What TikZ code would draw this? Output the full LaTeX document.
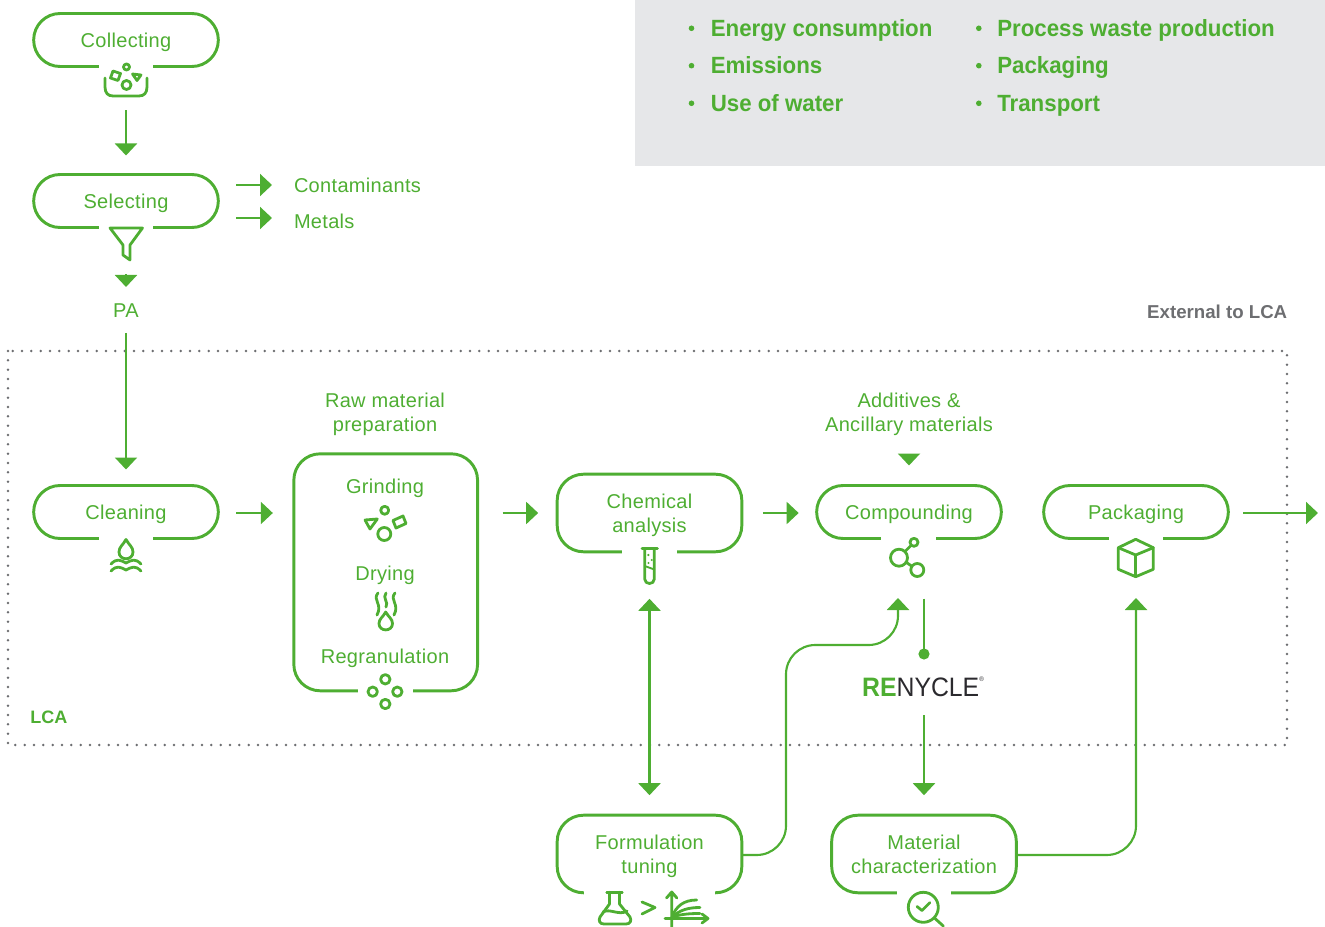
\documentclass[tikz,border=0pt]{standalone}
\usepackage{fontspec}
\setmainfont{Liberation Sans}
\newfontfamily\labelfont[LetterSpace=1.6]{Liberation Sans}
\newfontfamily\itemfont[FakeStretch=0.95]{Liberation Sans}
\newfontfamily\logofont[FakeStretch=0.93]{Liberation Sans}
\usepackage{xcolor}
\usetikzlibrary{arrows.meta}
\definecolor{lcagreen}{HTML}{4EAE32}
\definecolor{lcagrey}{HTML}{E6E7E9}
\definecolor{lcadark}{HTML}{2B2A2E}
\definecolor{lcadots}{HTML}{6D6E71}
\newcommand{\lift}{\rule[-3.4pt]{0pt}{17.4pt}}
\tikzset{
	label/.style={text=lcagreen,font=\labelfont\fontsize{15}{18}\selectfont,align=center,inner sep=0pt,outer sep=0pt,execute at end node=\lift},
	stepbox/.style={label,draw=lcagreen,line width=2.2pt,rounded corners=19.8pt,minimum width=138.5pt},
	pill/.style={stepbox,minimum height=39.75pt},
	tall/.style={stepbox,minimum height=58.2pt},
	gap/.style={fill=white},
	item/.style={text=lcagreen,font=\itemfont\fontsize{17.6}{20}\bfseries\selectfont,anchor=base west,inner sep=0pt},
	icon/.style={draw=lcagreen,line width=2.1pt,line join=round,line cap=round},
	flow/.style={draw=lcagreen,line width=1.6pt,-{Triangle[width=16.5pt,length=9pt]}},
}
\begin{document}
\begin{tikzpicture}[x=0.75pt,y=-0.75pt]
	\useasboundingbox (0,0) rectangle (1325,927);
	% panel
	\fill[lcagrey] (635,-1) rectangle (1326,166);
	\foreach \ypos/\ybase/\itema/\itemb in {28.3/36.7/Energy consumption/Process waste production,65.7/73.7/Emissions/Packaging,103.3/111.7/Use of water/Transport}{
		\fill[lcagreen] (691.5,\ypos) circle (2.8);
		\fill[lcagreen] (978.8,\ypos) circle (2.8);
		\node[item] at (710.5,\ybase) {\itema};
		\node[item] at (997,\ybase) {\itemb};
	}
	% frame
	\draw[lcadots,line width=2.1pt,line cap=round,dash pattern=on 0pt off 7pt] (8,351) rectangle (1287,745);
	\node[text=lcadots,font=\fontsize{14}{17}\bfseries\selectfont,anchor=east,inner sep=0pt] (external) at (1287.5,312) {External to LCA};
	\node[text=lcagreen,font=\fontsize{13.5}{17}\bfseries\selectfont,anchor=west,inner sep=0pt] (lca) at (30,717) {LCA};
	%
	\node[pill] (collecting) at (126,40) {Collecting};
	\node[pill] (selecting) at (126,201) {Selecting};
	\node[pill] (cleaning) at (126,512) {Cleaning};
	\node[stepbox,minimum width=137.8pt,minimum height=177.75pt] (rawbox) at (385.7,572.3) {};
	\node[tall] (chemical) at (649.5,513) {\lift Chemical\\analysis};
	\node[pill] (compounding) at (909,512) {Compounding};
	\node[pill] (packaging) at (1136,512) {Packaging};
	\node[tall] (formulation) at (649.5,854) {\lift Formulation\\tuning};
	\node[tall] (material) at (924,854) {\lift Material\\characterization};
	%
	\fill[gap] (99,60) rectangle (153,72);
	\fill[gap] (99,221) rectangle (153,233);
	\fill[gap] (99,532) rectangle (153,544);
	\fill[gap] (358,685) rectangle (413,697);
	\fill[gap] (622,545) rectangle (677,557);
	\fill[gap] (881,532) rectangle (936,544);
	\fill[gap] (1109,532) rectangle (1163,544);
	\fill[gap] (584,886) rectangle (715,898);
	\fill[gap] (897,886) rectangle (951,898);
	%
	\node[label,anchor=west] (contaminants) at (294,185) {Contaminants};
	\node[label,anchor=west] (metals) at (294,221) {Metals};
	\node[label] (pa) at (126,310) {PA};
	\node[label] (rawtitle) at (385,412) {\lift Raw material\\preparation};
	\node[label] (grinding) at (385,486) {Grinding};
	\node[label] (drying) at (385,573) {Drying};
	\node[label] (regranulation) at (385,656) {Regranulation};
	\node[label] (additives) at (909,412) {\lift Additives \&\\Ancillary materials};
	\node[inner sep=0pt,outer sep=0pt,text=lcadark,font=\logofont\fontsize{20}{24}\selectfont] (renycle) at (923,687) {\textcolor{lcagreen}{\textbf{RE}}NYCLE\raisebox{1.1ex}{\fontsize{5}{5}\selectfont ®}};
	\coordinate (exit) at (1318,513);
	%
	\draw[flow,shorten <=33pt,shorten >=14.25pt] (collecting.south) -- (selecting.north);
	\draw[flow,shorten >=16.5pt] (selecting.east |- 0,185) ++(13.5pt,0) -- (contaminants.west |- 0,185);
	\draw[flow,shorten >=16.5pt] (selecting.east |- 0,218) ++(13.5pt,0) -- (metals.west |- 0,218);
	\draw[flow,shorten <=35.25pt,shorten >=8.55pt] (selecting.south) -- (pa.north);
	\draw[flow,shorten <=8.55pt,shorten >=12pt] (pa.south) -- (cleaning.north);
	\draw[flow,shorten <=13.5pt,shorten >=15.75pt] (cleaning.east |- 0,513) -- (rawbox.west |- 0,513);
	\draw[flow,shorten <=18.75pt,shorten >=14.25pt] (rawbox.east |- 0,513) -- (chemical.west |- 0,513);
	\draw[flow,shorten <=15.75pt,shorten >=13.5pt] (chemical.east |- 0,513) -- (compounding.west |- 0,513);
	\draw[flow,shorten <=11.25pt] (packaging.east |- 0,513) -- (exit);
	\draw[flow,shorten <=13.8pt,shorten >=15pt] (additives.south) -- (compounding.north);
	\draw[flow,{Triangle[width=16.5pt,length=9pt]}-{Triangle[width=16.5pt,length=9pt]},shorten <=35.25pt,shorten >=15pt] (chemical.south) -- (formulation.north);
	\draw[flow,rounded corners=22pt] ([yshift=-.75pt]formulation.east) -| (786,645) -| (898,598);
	\draw[flow,rounded corners=22pt] ([yshift=-.75pt]material.east) -| (packaging.south |- 0,598);
	\draw[draw=lcagreen,line width=1.6pt,-{Circle[length=8.25pt]},shorten <=45pt] (compounding.south -| material.north) -- (material.north |- 0,659.5);
	\draw[flow,shorten <=13.65pt,shorten >=15pt] (renycle.south -| material.north) -- (material.north);
	%
	% collecting
	\draw[icon] (105,78) -- (105,87) .. controls (105,93) and (108,96) .. (113,96) -- (139,96) .. controls (144,96) and (147,93) .. (147,87) -- (147,78);
	\draw[icon] (126.5,67) circle (3);
	\draw[icon] (126.5,85) circle (4.5);
	\draw[icon] (113,71) -- (120.5,73.5) -- (118,80.5) -- (110.5,78) -- cycle;
	\draw[icon] (132.5,74) -- (141,75) -- (137,80.5) -- cycle;
	% selecting
	\draw[icon] (110,228) -- (142.5,228) -- (130,245) -- (130,260) -- (123,255) -- (123,245) -- cycle;
	% cleaning
	\draw[icon] (126,539.5) .. controls (123,545) and (119,547) .. (119,552) .. controls (119,561) and (133,561) .. (133,552) .. controls (133,547) and (129,545) .. (126,539.5) -- cycle;
	\draw[icon] (111,564) .. controls (117,558) and (120,560) .. (126,563) .. controls (132,560) and (135,558) .. (141,564);
	\draw[icon] (111,571) .. controls (117,565) and (120,567) .. (126,570) .. controls (132,567) and (135,565) .. (141,571);
	% grinding
	\draw[icon] (384.7,510.3) circle (4);
	\draw[icon] (384.3,534) circle (6.5);
	\draw[icon] (365,520) -- (377.3,519) -- (370,529) -- cycle;
	\draw[icon] (393,520.5) -- (403,516) -- (406,523.5) -- (396,528) -- cycle;
	% drying
	\draw[icon] (378,593) .. controls (372,600) and (383,604) .. (377,615);
	\draw[icon] (386,593) .. controls (382,598) and (389,602) .. (386,607);
	\draw[icon] (395,593) .. controls (389,600) and (400,604) .. (394,615);
	\draw[icon] (385.7,612) .. controls (383,617) and (379,619) .. (379,623.5) .. controls (379,632) and (392.5,632) .. (392.5,623.5) .. controls (392.5,619) and (388.5,617) .. (385.7,612) -- cycle;
	% regranulation
	\foreach \xpos/\ypos in {385.3/679.3,372.7/691.7,397.3/691.7,385.3/704}{
		\draw[icon] (\xpos,\ypos) circle (4.7);
	}
	% chemical
	\draw[icon] (642,548.5) -- (657.5,548.5);
	\draw[icon] (644.7,548.5) -- (644.7,579) .. controls (644.7,585) and (654.3,585) .. (654.3,579) -- (654.3,548.5);
	\draw[icon,line width=1.4pt] (644.7,566) -- (654.3,569.5);
	\fill[lcagreen] (648.3,555) circle (1.2) (651.7,560) circle (1.2) (648.5,563) circle (1.2);
	% compounding
	\draw[icon] (899,557.7) circle (8.5);
	\draw[icon] (914,542.3) circle (4);
	\draw[icon] (917.3,570) circle (6.5);
	\draw[icon] (905,551.5) -- (911,545.5);
	\draw[icon] (906.5,562.5) -- (911.5,566);
	% packaging
	\draw[icon] (1135.7,539.3) -- (1153.3,547.7) -- (1153.3,569.3) -- (1135.7,576.7) -- (1118.3,569.3) -- (1118.3,547.7) -- cycle;
	\draw[icon] (1118.3,547.7) -- (1135.7,555) -- (1153.3,547.7);
	\draw[icon] (1135.7,555) -- (1135.7,576.7);
	% formulation
	\draw[icon] (606.7,892.3) -- (622.3,892.3);
	\draw[icon] (609.5,892.3) -- (609.5,904) -- (600,917) .. controls (598,921) and (600,924) .. (604,924) -- (626,924) .. controls (630,924) and (632,921) .. (630,917) -- (619.5,904) -- (619.5,892.3);
	\draw[icon] (603,912) .. controls (610,908) and (619,916) .. (627,911);
	\draw[icon] (642,902) -- (655,907.5) -- (642,914);
	\draw[icon] (671.7,927) -- (671.7,892) (666.5,898) -- (671.7,892) -- (676.9,898);
	\draw[icon] (665,918.5) -- (708,918.5) (702,914) -- (708,918.5) -- (702,923);
	\draw[icon] (672,917) .. controls (676,906) and (684,900) .. (696.7,900);
	\draw[icon] (672,917) .. controls (680,910) and (688,907.5) .. (700,907.5);
	\draw[icon] (672,917) .. controls (682,914) and (690,913.5) .. (700,913.5);
	% material
	\draw[icon] (923.3,907.3) circle (15);
	\draw[icon] (917,906.5) -- (922,910.5) -- (930,902.5);
	\draw[icon] (935,918.5) -- (943.3,926);
\end{tikzpicture}
\end{document}
